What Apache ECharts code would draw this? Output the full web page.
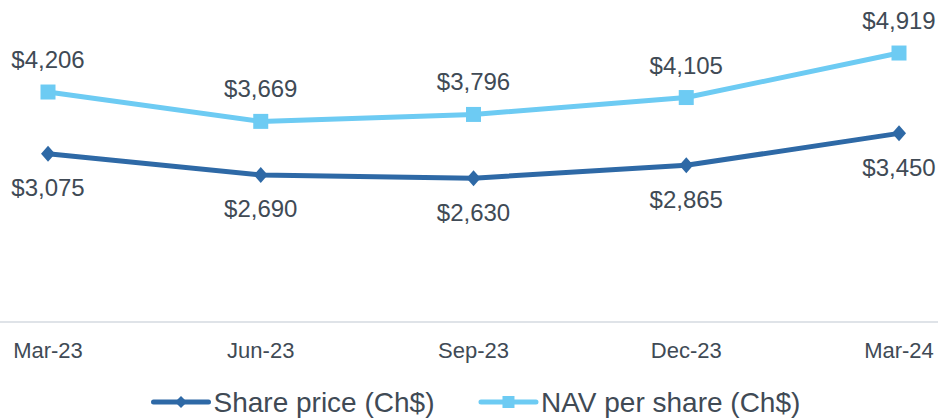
<!DOCTYPE html>
<html lang="en">
  <head>
    <meta charset="UTF-8" />
    <script src="https://cdn.jsdelivr.net/npm/echarts@6/dist/echarts.min.js"></script>
    <title>Share price vs NAV</title>
  </head>
  <body style="margin: 0">
    <div id="chart" style="width: 938px; height: 418px"></div>
  </body>
</html>

<script>
  const quarters = ["Mar-23", "Jun-23", "Sep-23", "Dec-23", "Mar-24"];
  const sharePrice = [3075, 2690, 2630, 2865, 3450];
  const navPerShare = [4206, 3669, 3796, 4105, 4919];

  const darkBlue = "#2e69a6";
  const lightBlue = "#6dcbf3";
  const textColor = "#404a55";
  const font = "Liberation Sans";

  const myChart = echarts.init(document.getElementById("chart"), null, { renderer: "svg" });

  const fmt = (p) => "$" + p.value.toLocaleString("en-US");

  const options = {
    animation: false,
    textStyle: { fontFamily: font },
    grid: [
      { left: 48, right: 39, top: 48.6, bottom: 96 },
      // full width grid only for the baseline
      { left: 0, right: 0, top: 48.6, bottom: 96 },
    ],
    xAxis: [
      {
        type: "category",
        data: quarters,
        boundaryGap: false,
        axisLine: { show: false },
        axisTick: { show: false },
        axisLabel: { color: textColor, fontSize: 22, margin: 17, fontFamily: font },
      },
      {
        gridIndex: 1,
        type: "value",
        min: 0,
        max: 1,
        axisLine: { show: true, lineStyle: { color: "#dfe3e8", width: 2 } },
        axisTick: { show: false },
        axisLabel: { show: false },
        splitLine: { show: false },
      },
    ],
    yAxis: [
      { type: "value", min: 0, max: 5000, show: false },
      { gridIndex: 1, type: "value", show: false },
    ],
    legend: {
      bottom: -3,
      left: 146,
      itemWidth: 55,
      itemHeight: 15,
      itemGap: 44,
      lineStyle: { width: 5, cap: "round" },
      textStyle: { color: textColor, fontSize: 28, fontFamily: font },
      data: ["Share price (Ch$)", "NAV per share (Ch$)"],
    },
    series: [
      {
        name: "Share price (Ch$)",
        type: "line",
        data: sharePrice,
        symbol: "diamond",
        symbolSize: [14, 16],
        lineStyle: { color: darkBlue, width: 5 },
        itemStyle: { color: darkBlue },
        label: {
          show: true,
          position: "bottom",
          distance: 14,
          color: textColor,
          fontSize: 24,
          fontFamily: font,
          formatter: fmt,
        },
      },
      {
        name: "NAV per share (Ch$)",
        type: "line",
        data: navPerShare,
        symbol: "rect",
        symbolSize: 15,
        lineStyle: { color: lightBlue, width: 5 },
        itemStyle: { color: lightBlue },
        label: {
          show: true,
          position: "top",
          distance: 13,
          color: textColor,
          fontSize: 24,
          fontFamily: font,
          formatter: fmt,
        },
      },
    ],
  };
  myChart.setOption(options);
</script>
